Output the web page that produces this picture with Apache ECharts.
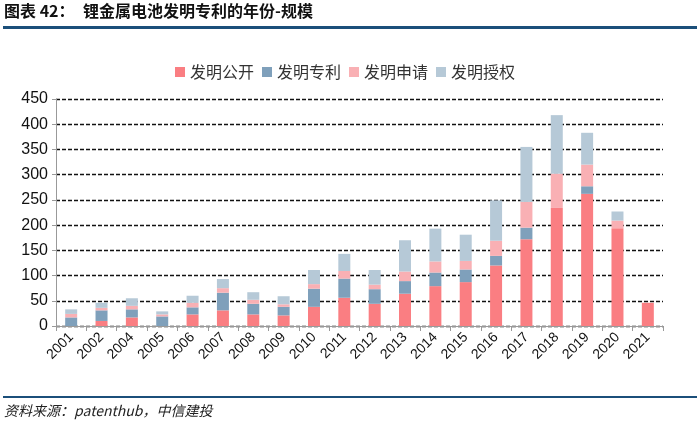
<!DOCTYPE html>
<html>
<head>
<meta charset="utf-8">
<script src="https://cdn.jsdelivr.net/npm/echarts@6/dist/echarts.min.js"></script>
<style>
html,body{margin:0;padding:0;background:#fff;}
#c{width:700px;height:433px;}
</style>
</head>
<body>
<div id="c"></div>
<script>
var categories = ['2001','2002','2004','2005','2006','2007','2008','2009','2010','2011','2012','2013','2014','2015','2016','2017','2018','2019','2020','2021'];
var seriesNames = ['发明公开','发明专利','发明申请','发明授权'];
var gongkai = [0,10,17,0,23,31,23,21,38,56,44,64,79,87,120,172,234,262,194,46];
var zhuanli = [17,21,16,19,14,35,21,17,36,38,29,25,27,25,19,23,0,15,0,0];
var shenqing = [7,5,7,4,9,9,8,5,9,15,9,19,22,17,30,51,68,43,15,0];
var shouquan = [9,10,15,6,14,18,15,16,28,34,29,62,65,52,80,109,116,63,18,0];
var colors = ['#FA7E82','#7FA0BB','#F9B0B4','#B6C9D7'];
var allData = [gongkai, zhuanli, shenqing, shouquan];

var chart = echarts.init(document.getElementById('c'));
var series = seriesNames.map(function(n, i){
  return {
    name: n, type: 'bar', stack: 'total', data: allData[i],
    barWidth: 12, itemStyle: {color: colors[i]}
  };
});
chart.setOption({
  animation: false,
  color: colors,
  legend: {
    top: 59, left: 170,
    itemWidth: 10, itemHeight: 10, itemGap: 8,
    icon: 'rect',
    textStyle: {fontSize: 16, color: '#333', fontFamily: 'Noto Sans CJK SC'},
    data: seriesNames
  },
  grid: {left: 56, right: 37, top: 99, bottom: 107, containLabel: false},
  xAxis: {
    type: 'category', data: categories,
    axisLine: {lineStyle: {color: '#999', width: 1}},
    axisTick: {show: true, length: 5, lineStyle: {color: '#999'}},
    axisLabel: {rotate: 45, fontSize: 14, color: '#111', fontFamily: 'Liberation Sans', margin: 9, interval: 0}
  },
  yAxis: {
    type: 'value', min: 0, max: 450, interval: 50,
    axisLine: {show: true, lineStyle: {color: '#999'}},
    axisTick: {show: true, length: 4, lineStyle: {color: '#999'}},
    axisLabel: {fontSize: 16, color: '#111', fontFamily: 'Liberation Sans', margin: 8},
    splitLine: {show: true, lineStyle: {color: '#111', type: [4, 2], width: 1.3}}
  },
  graphic: [
    {type: 'text', left: 4, top: 3, style: {text: '图表 42：', font: 'bold 16px "Noto Sans CJK SC"', fill: '#111'}},
    {type: 'text', left: 83, top: 3, style: {text: '锂金属电池发明专利的年份-规模', font: 'bold 16px "Noto Sans CJK SC"', fill: '#111'}},
    {type: 'rect', shape: {x: 3, y: 26, width: 694, height: 3}, style: {fill: '#1B4F7A'}},
    {type: 'rect', shape: {x: 3, y: 396, width: 694, height: 2}, style: {fill: '#1B4F7A'}},
    {type: 'text', left: 4, top: 404, style: {text: '资料来源：patenthub，中信建投', font: 'italic 14px "Noto Sans CJK SC"', fill: '#222'}}
  ],
  series: series
});
</script>
</body>
</html>
